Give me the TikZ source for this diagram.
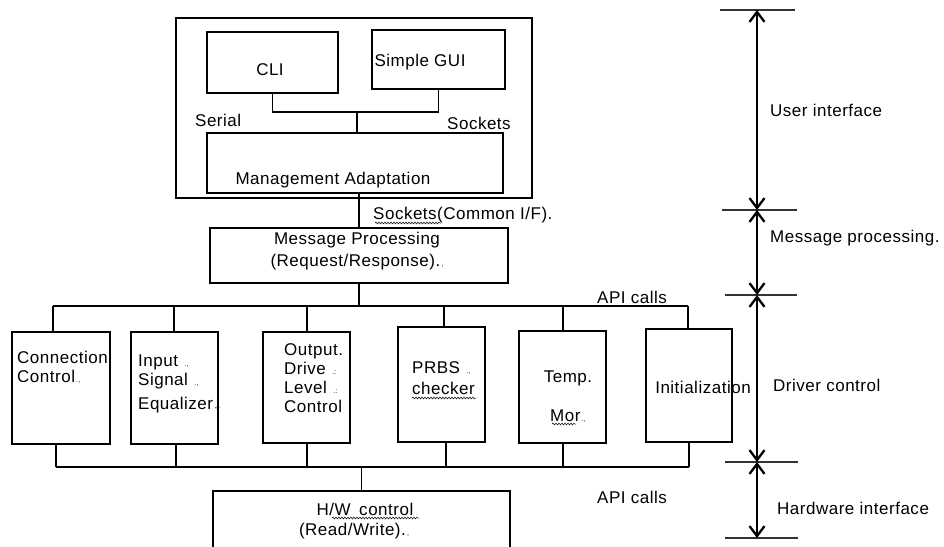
\documentclass[tikz,border=0pt]{standalone}
\usepackage{fontspec}
\setmainfont{Liberation Sans}[LetterSpace=3]
\usetikzlibrary{arrows.meta,decorations.pathmorphing}
\newcommand\pmk[1]{{\fontsize{7}{7}\selectfont\,#1}}
\begin{document}
\begin{tikzpicture}[x=1pt,y=-1pt,
  bx/.style={draw,line width=1.2pt,inner sep=0pt},
  ln/.style={line width=1.1pt},
  txt/.style={inner sep=0pt,font=\fontsize{17}{19}\selectfont},
  lab/.style={txt,anchor=west},
  scaletick/.style={line width=1.2pt,black!80},
  dimarrow/.style={line width=2.8pt,{Straight Barb[length=10pt,width=15pt,line width=2.3pt]}-{Straight Barb[length=10pt,width=15pt,line width=2.3pt]}},
  wavy/.style={decorate,decoration={snake,amplitude=0.9pt,segment length=3pt},line width=0.5pt}]
\useasboundingbox (0,0) rectangle (944,546);
\fill[white] (0,0) rectangle (944,546);
\begin{scope}
\clip (0,0) rectangle (944,546);
% ---------- user interface block ----------
\node[bx,minimum width=356pt,minimum height=180pt] (ui) at (354,108) {};
\node[bx,minimum width=131pt,minimum height=61pt] (cli) at (272.5,62.5) {};
\node[txt] (clit) at (270,70) {CLI};
\node[bx,minimum width=133pt,minimum height=59pt] (gui) at (438.5,59.5) {};
\node[txt] (guit) at (420,62) {Simple GUI};
\node[bx,minimum width=296pt,minimum height=60pt] (mgmt) at (355,163) {};
\node[txt] (mgmtt) at (333,180) {Management Adaptation};
\node[lab] (serial) at (195,120) {Serial};
\node[lab] (sock) at (447,123) {Sockets};
\coordinate (j) at (357,112);
\draw[ln] (cli.south) |- (j) -| (gui.south);
\draw[ln] (j) -- (j |- mgmt.north);
% ---------- message processing ----------
\node[lab] (common) at (373,215) {Sockets(Common I/F).};
\draw[wavy] (375,223) -- (441,223);
\node[bx,minimum width=298pt,minimum height=55pt] (msg) at (359,255.5) {};
\node[txt,align=center,font=\fontsize{17}{22}\selectfont] (msgt) at (357,251) {Message Processing\\(Request/Response).\pmk{,}};
\draw[ln] (mgmt.south -| msg.north) -- (msg.north);
% ---------- driver boxes ----------
\node[bx,minimum width=98pt,minimum height=112pt] (cc) at (61,388) {};
\node[lab,align=left] (cct) at (17,367.5) {Connection\\Control\pmk{.,}};
\node[bx,minimum width=87pt,minimum height=112pt] (is) at (174.5,388) {};
\node[lab,align=left] (ist) at (138,384) {Input \pmk{.,}\\Signal \pmk{.,}\\[5pt]Equalizer\pmk{$\scriptscriptstyle\leftarrow$}};
\node[bx,minimum width=87pt,minimum height=111pt] (od) at (306.5,387.5) {};
\node[lab,align=left] (odt) at (284,378.5) {Output.\\Drive \pmk{.:}\\Level \pmk{.:}\\Control};
\node[bx,minimum width=87pt,minimum height=115pt] (prbs) at (441.5,384.5) {};
\node[lab,align=left] (prbst) at (412,378.5) {PRBS \pmk{.,}\\[2pt]checker};
\draw[wavy] (412,398) -- (476,398);
\node[bx,minimum width=87pt,minimum height=112pt] (temp) at (562.5,387) {};
\node[txt,align=center] (tempt) at (568,396.5) {Temp.\\[20pt]Mor\pmk{.,}};
\draw[wavy] (552,424) -- (576,424);
\node[bx,minimum width=86pt,minimum height=113pt] (init) at (689,385.5) {};
\node[txt] (initt) at (703,387) {Initialization};
% top bus
\coordinate (tb1) at (53,306);
\coordinate (tb2) at (174,306);
\coordinate (tb3) at (307,306);
\coordinate (tb4) at (444,306);
\coordinate (tb5) at (563,306);
\coordinate (tb6) at (688,306);
\draw[ln] (tb1) -- (tb6);
\draw[ln] (msg.south) -- (msg.south |- tb1);
\draw[ln] (tb1) -- (tb1 |- cc.north);
\draw[ln] (tb2) -- (tb2 |- is.north);
\draw[ln] (tb3) -- (tb3 |- od.north);
\draw[ln] (tb4) -- (tb4 |- prbs.north);
\draw[ln] (tb5) -- (tb5 |- temp.north);
\draw[ln] (tb6) -- (tb6 |- init.north);
\node[lab] (api1) at (597,297) {API calls};
% bottom bus
\coordinate (bb1) at (56,467);
\coordinate (bb2) at (176,467);
\coordinate (bb3) at (307,467);
\coordinate (bb4) at (446,467);
\coordinate (bb5) at (563,467);
\coordinate (bb6) at (689,467);
\draw[ln] (bb1) -- (bb6);
\draw[ln] (bb1) -- (bb1 |- cc.south);
\draw[ln] (bb2) -- (bb2 |- is.south);
\draw[ln] (bb3) -- (bb3 |- od.south);
\draw[ln] (bb4) -- (bb4 |- prbs.south);
\draw[ln] (bb5) -- (bb5 |- temp.south);
\draw[ln] (bb6) -- (bb6 |- init.south);
\node[lab] (api2) at (597,497) {API calls};
% ---------- hardware control ----------
\node[bx,minimum width=297pt,minimum height=69pt] (hw) at (361.5,525.5) {};
\node[txt] (hwt1) at (365,509) {H/W\,\,\,control};
\draw[wavy] (332,518) -- (419,518);
\node[txt] (hwt2) at (354,531) {(Read/Write).\pmk{,}};
\draw[ln] (hw.north |- bb1) -- (hw.north);
% ---------- layer scale ----------
\coordinate (s1) at (757,10);
\coordinate (s2) at (757,210);
\coordinate (s3) at (757,295);
\coordinate (s4) at (757,462);
\coordinate (s5) at (757,538);
\draw[scaletick] ([xshift=-37pt]s1) -- ([xshift=38pt]s1);
\draw[scaletick] ([xshift=-35pt]s2) -- ([xshift=40pt]s2);
\draw[scaletick] ([xshift=-32pt]s3) -- ([xshift=40pt]s3);
\draw[scaletick] ([xshift=-32pt]s4) -- ([xshift=41pt]s4);
\draw[scaletick] ([xshift=-32pt]s5) -- ([xshift=41pt]s5);
\draw[dimarrow] (s1) -- (s2);
\draw[dimarrow] (s2) -- (s3);
\draw[dimarrow] (s3) -- (s4);
\draw[dimarrow] (s4) -- (s5);
\node[lab] (l1) at (770,110) {User interface};
\node[lab] (l2) at (770,238) {Message processing.};
\node[lab] (l3) at (773,385) {Driver control};
\node[lab] (l4) at (777,508) {Hardware interface};
\end{scope}
\end{tikzpicture}
\end{document}
